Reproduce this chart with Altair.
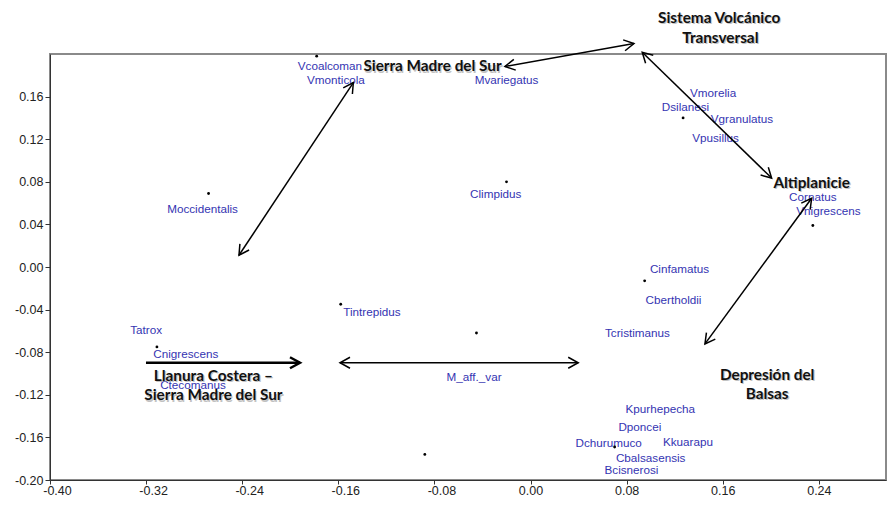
import math
import altair as alt
import pandas as pd

# ---------------- data ----------------
# sample points (black dots)
dot_x = [-0.178, -0.268, -0.020, 0.127, 0.235, -0.311, -0.158, -0.088, -0.045, 0.095, 0.070]
dot_y = [0.198, 0.069, 0.080, 0.140, 0.039, -0.075, -0.035, -0.176, -0.062, -0.013, -0.169]

# species labels (blue) and where they sit
species = ["Vcoalcoman", "Vmonticola", "Mvariegatus", "Vmorelia", "Dsilanesi",
           "Vgranulatus", "Vpusillus", "Moccidentalis", "Climpidus", "Cornatus",
           "Vnigrescens", "Cinfamatus", "Cbertholdii", "Tcristimanus", "Tintrepidus",
           "Tatrox", "Cnigrescens", "Ctecomanus", "M_aff._var", "Kpurhepecha",
           "Dponcei", "Dchurumuco", "Kkuarapu", "Cbalsasensis", "Bcisnerosi"]
label_x = [-0.167, -0.162, -0.020, 0.152, 0.129,
           0.176, 0.154, -0.273, -0.029, 0.235,
           0.248, 0.124, 0.119, 0.089, -0.132,
           -0.320, -0.287, -0.281, -0.047, 0.108,
           0.091, 0.065, 0.131, 0.100, 0.084]
label_y = [0.189, 0.176, 0.176, 0.163, 0.150,
           0.139, 0.121, 0.054, 0.069, 0.066,
           0.053, -0.002, -0.031, -0.062, -0.042,
           -0.059, -0.082, -0.111, -0.103, -0.133,
           -0.150, -0.165, -0.164, -0.179, -0.191]

# region labels (bold black)
region_text = ["Sierra Madre del Sur", "Sistema Volcánico", "Transversal", "Altiplanicie",
               "Llanura Costera –", "Sierra Madre del Sur", "Depresión del", "Balsas"]
region_x = [-0.0816, 0.157, 0.158, 0.234, -0.264, -0.264, 0.197, 0.197]
region_y = [0.1883, 0.2337, 0.2153, 0.0792, -0.1021, -0.1205, -0.1016, -0.1190]

# arrows between regions
arrow_x1 = [-0.2427, -0.0213, 0.0930, 0.2340, -0.3201, -0.1586]
arrow_y1 = [0.0110, 0.1883, 0.2016, 0.0645, -0.0899, -0.0899]
arrow_x2 = [-0.1475, 0.0861, 0.2007, 0.1452, -0.1919, 0.0397]
arrow_y2 = [0.1731, 0.2098, 0.0835, -0.0722, -0.0899, -0.0899]
arrow_both = [True, True, True, True, False, True]
arrow_w = [1.5, 1.5, 1.5, 1.5, 2.5, 1.5]

x_ticks = [-0.40, -0.32, -0.24, -0.16, -0.08, 0.00, 0.08, 0.16, 0.24]
y_ticks = [-0.20, -0.16, -0.12, -0.08, -0.04, 0.00, 0.04, 0.08, 0.12, 0.16]

# ---------------- layout ----------------
W, H = 836, 426
XD = [-0.40, 0.2959]
YD = [-0.20, 0.20]
kx = W / (XD[1] - XD[0])
ky = H / (YD[1] - YD[0])

dots = pd.DataFrame({"x": dot_x, "y": dot_y})
labels = pd.DataFrame({"name": species, "x": label_x, "y": label_y})
regions = pd.DataFrame({"text": region_text, "x": region_x, "y": region_y})
arrows = pd.DataFrame({"x1": arrow_x1, "y1": arrow_y1, "x2": arrow_x2, "y2": arrow_y2,
                       "w": arrow_w})

heads = []
for x1, y1, x2, y2, both, w in zip(arrow_x1, arrow_y1, arrow_x2, arrow_y2, arrow_both, arrow_w):
    sx, sy = (x2 - x1) * kx, -(y2 - y1) * ky
    a = math.degrees(math.atan2(sy, sx)) % 360
    heads.append({"x": x2, "y": y2, "ang": a, "w": w})
    if both:
        heads.append({"x": x1, "y": y1, "ang": (a + 180) % 360, "w": w})
heads = pd.DataFrame(heads)

xs = alt.Scale(domain=XD, nice=False, zero=False)
ys = alt.Scale(domain=YD, nice=False, zero=False)

lab_expr = "(datum.value < -0.0001 ? '-' : '') + format(abs(datum.value), '.2f')"

x_axis = alt.Axis(values=x_ticks, labelExpr=lab_expr, grid=False, title=None,
                  tickSize=4, labelPadding=0, labelFont="Liberation Sans",
                  labelFontSize=12.5, labelColor="#222", domainColor="#333",
                  tickColor="#333", labelFlush=False,
                  labelOffset={"condition": {"test": "datum.value < -0.0001", "value": 7}, "value": 0})
y_axis = alt.Axis(values=y_ticks, labelExpr=lab_expr, grid=False, title=None,
                  tickSize=5, labelPadding=2, labelFont="Liberation Sans",
                  labelFontSize=12.5, labelColor="#222", domainColor="#333",
                  tickColor="#333", labelFlush=False)

base_axes = alt.Chart(dots).mark_circle(size=8, color="black", opacity=1).encode(
    x=alt.X("x:Q", scale=xs, axis=x_axis),
    y=alt.Y("y:Q", scale=ys, axis=y_axis),
)

blue = alt.Chart(labels).mark_text(font="Liberation Sans", fontSize=11.7,
                                   color="#3434b2", align="center", baseline="middle").encode(
    x=alt.X("x:Q", scale=xs), y=alt.Y("y:Q", scale=ys), text="name:N")

lines = alt.Chart(arrows).mark_rule(color="black").encode(
    x=alt.X("x1:Q", scale=xs), y=alt.Y("y1:Q", scale=ys),
    x2="x2:Q", y2="y2:Q",
    strokeWidth=alt.StrokeWidth("w:Q", scale=None))

tips = alt.Chart(heads).mark_point(shape="M-1,-0.55L0,0L-1,0.55", size=400, filled=False,
                                   color="black", opacity=1, strokeJoin="miter").encode(
    x=alt.X("x:Q", scale=xs), y=alt.Y("y:Q", scale=ys),
    angle=alt.Angle("ang:Q", scale=None),
    strokeWidth=alt.StrokeWidth("w:Q", scale=None))

shadow = alt.Chart(regions).mark_text(font="Lato", fontWeight="bold", fontSize=15.3,
                                      color="#9a9a9a", opacity=0.6, dx=1.2, dy=1.2,
                                      align="center", baseline="middle").encode(
    x=alt.X("x:Q", scale=xs), y=alt.Y("y:Q", scale=ys), text="text:N")

bold = alt.Chart(regions).mark_text(font="Lato", fontWeight="bold", fontSize=15.3,
                                    color="#111", align="center", baseline="middle").encode(
    x=alt.X("x:Q", scale=xs), y=alt.Y("y:Q", scale=ys), text="text:N")

chart = alt.layer(blue, base_axes, lines, tips, shadow, bold).properties(
    width=W, height=H,
    autosize=alt.AutoSizeParams(type="none"),
    padding={"left": 42, "top": 46, "right": 1, "bottom": 18},
    background="white",
).configure_view(stroke="#8a8a8a", strokeWidth=2)

chart.save("out.html", embed_options={"renderer": "svg", "actions": False})
